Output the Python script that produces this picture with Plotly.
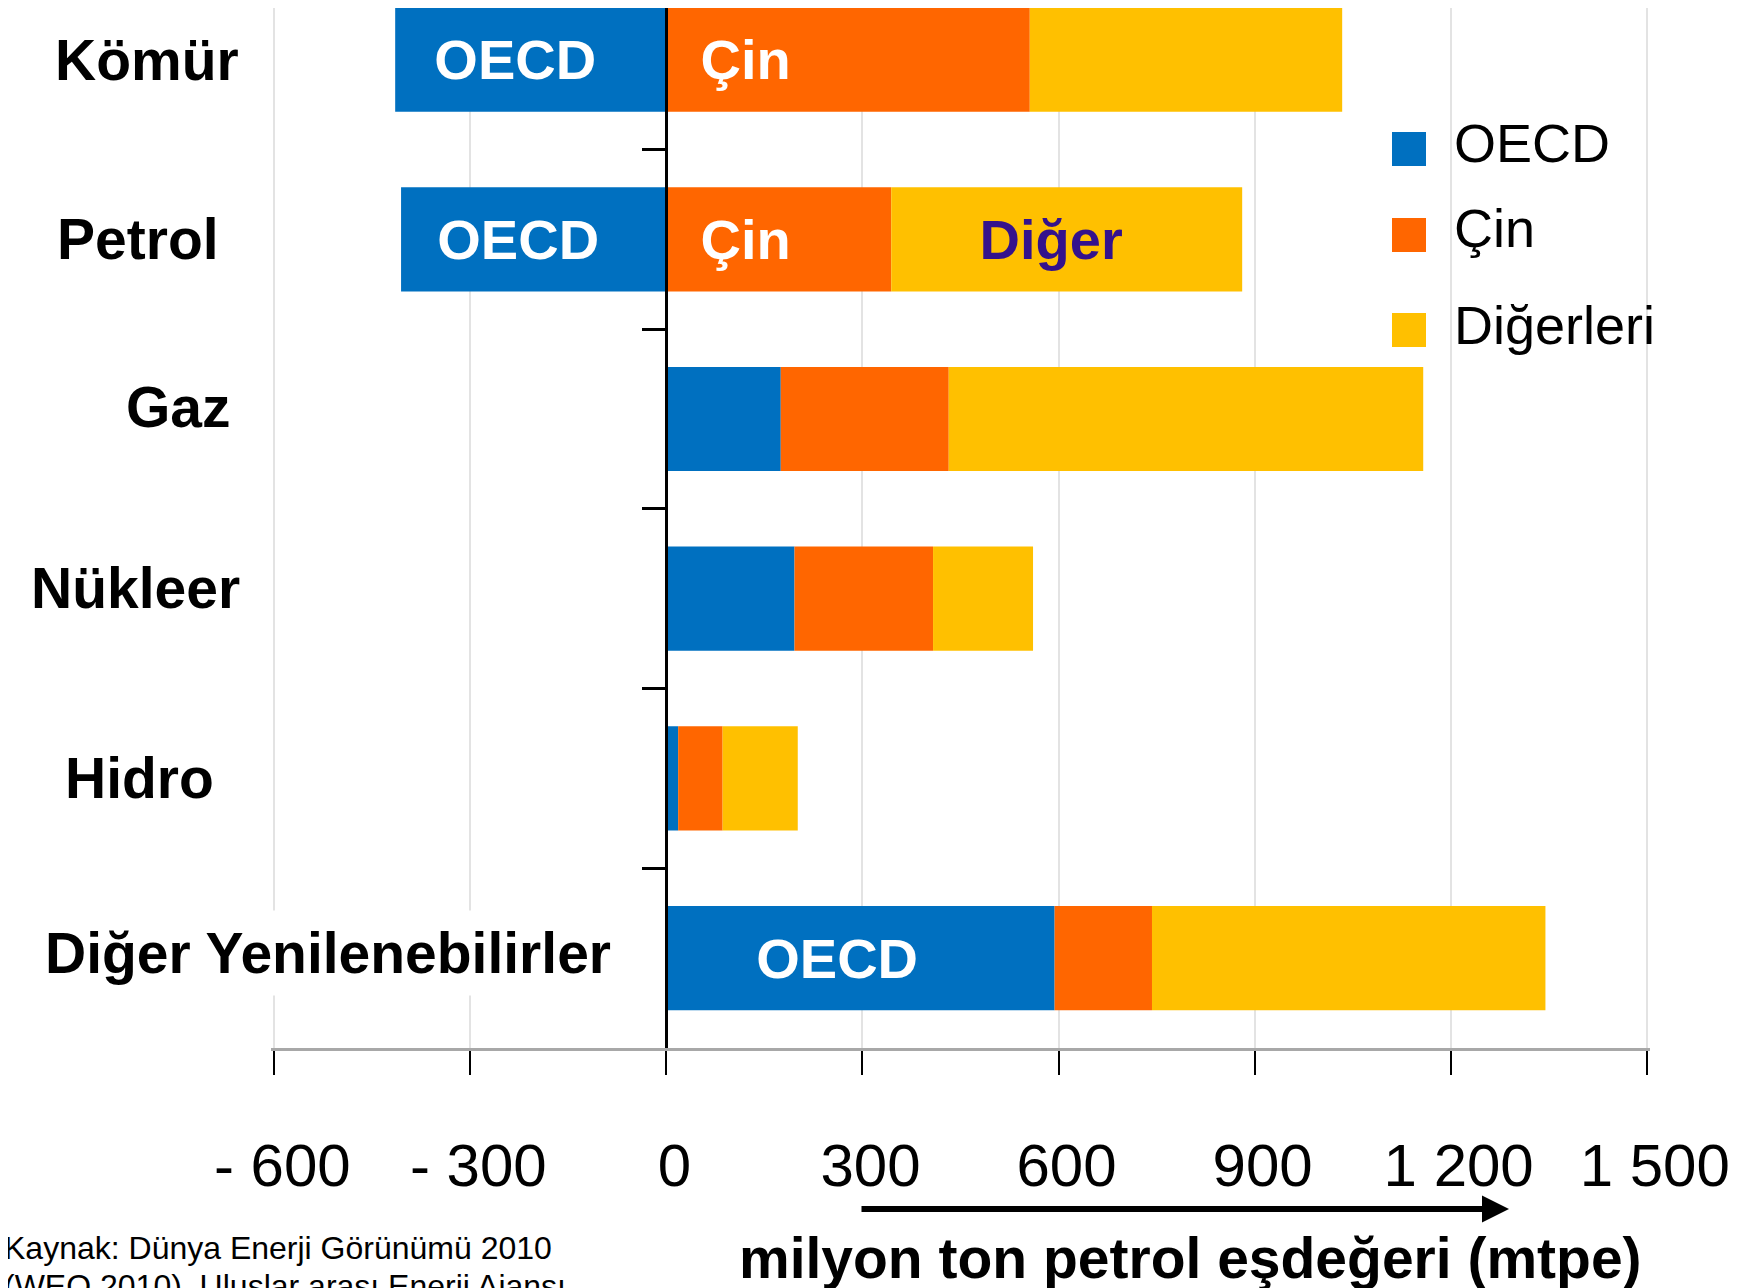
import plotly.graph_objects as go

# ---------------- data ----------------
categories = ["Kömür", "Petrol", "Gaz", "Nükleer", "Hidro", "Diğer Yenilenebilirler"]
series_names = ["OECD", "Çin", "Diğerleri"]
oecd = [-415, -406, 175, 196, 18, 594]
cin = [556, 344, 257, 212, 68, 149]
diger = [478, 537, 726, 153, 115, 602]
oecd_labels = ["OECD", "OECD", "", "", "", "OECD"]
cin_labels = ["Çin", "Çin", "", "", "", ""]
diger_labels = ["", "Diğer", "", "", "", ""]
tick_values = [-600, -300, 0, 300, 600, 900, 1200, 1500]
tick_labels = ["- 600", "- 300", "0", "300", "600", "900", "1 200", "1 500"]
x_title = "milyon ton petrol eşdeğeri (mtpe)"
source_lines = ["Kaynak: Dünya Enerji Görünümü 2010", "(WEO 2010), Uluslar arası Enerji Ajansı"]

# ---------------- layout constants ----------------
W, H = 1744, 1288
OFF = 8                      # page body margin in the browser
PLOT_L, PLOT_R, PLOT_T, PLOT_B = 263, 1642, 0, 1040   # figure pixel coords
X_RANGE = [-605, 1505]
Y_RANGE = [5.5, -0.287]
FONT = "Liberation Sans, Arial, sans-serif"
colors = ["#0070C0", "#FF6600", "#FFC000"]
text_colors = ["white", "white", "#34128C"]
text_anchors = ["middle", "start", "middle"]
NB = "\u00a0"
# padding (non-breaking spaces) before / after in-bar labels, to place them as in the original
pad_before = [[0, 0, 0, 0, 0, 0], [2, 2, 0, 0, 0, 0], [0, 0, 0, 0, 0, 0]]
pad_after = [[2, 2, 0, 0, 0, 3], [0, 0, 0, 0, 0, 0], [0, 2, 0, 0, 0, 0]]


def px(xpage):
    return (xpage - OFF - PLOT_L) / (PLOT_R - PLOT_L)


def py(ypage):
    return (PLOT_B - (ypage - OFF)) / (PLOT_B - PLOT_T)


fig = go.Figure()
series = [oecd, cin, diger]
raw_labels = [oecd_labels, cin_labels, diger_labels]
for k, (name, vals, txt, col, tc, anc) in enumerate(
        zip(series_names, series, raw_labels, colors, text_colors, text_anchors)):
    shown = [NB * pad_before[k][i] + t + NB * pad_after[k][i] if t else "" for i, t in enumerate(txt)]
    fig.add_trace(go.Bar(
        y=categories, x=vals, orientation="h", name=name,
        marker=dict(color=col, line=dict(width=0)), width=0.58,
        text=shown, textposition="inside", insidetextanchor=anc, textangle=0,
        textfont=dict(family=FONT, size=56, color=tc, weight="bold"),
        constraintext="none", hoverinfo="skip",
    ))

annotations = []
# category labels
label_cx = [147, 138, 178, 135, 139, 328]
label_dy = [0, 0, 12, 11, 0, 5]
for cat, cx, dy in zip(categories, label_cx, label_dy):
    annotations.append(dict(
        x=px(cx), xref="paper", y=cat, yref="y", text=cat, showarrow=False,
        xanchor="center", yanchor="middle", yshift=dy,
        font=dict(family=FONT, size=57, color="black", weight="bold"),
        bgcolor="white", borderpad=10,
    ))

# legend (manual, large swatches)
shapes = [dict(type="rect", xref="paper", yref="paper", x0=px(1370), x1=px(1760),
               y0=py(363), y1=py(98), fillcolor="white", line=dict(width=0), layer="between")]
swatch_top = [132, 218, 313]
text_cy = [143, 228, 325]
for name, col, st, ty in zip(series_names, colors, swatch_top, text_cy):
    shapes.append(dict(type="rect", xref="paper", yref="paper", x0=px(1392), x1=px(1426),
                       y0=py(st + 34), y1=py(st), fillcolor=col, line=dict(width=0), layer="above"))
    annotations.append(dict(
        x=px(1452), xref="paper", y=py(ty), yref="paper", text=name, showarrow=False,
        xanchor="left", yanchor="middle",
        font=dict(family=FONT, size=54, color="black"),
    ))

# axis title + arrow
annotations.append(dict(
    x=px(1190), xref="paper", y=py(1258), yref="paper", text=x_title, showarrow=False,
    xanchor="center", yanchor="middle",
    font=dict(family=FONT, size=57, color="black", weight="bold"),
))
annotations.append(dict(
    x=px(1509), xref="paper", y=py(1209), yref="paper", text="", showarrow=True,
    ax=-(1509 - 860), ay=0, axref="pixel", ayref="pixel",
    arrowhead=2, arrowsize=0.9, arrowwidth=6, arrowcolor="black",
))
# source
for line, cy in zip(source_lines, [1248, 1286]):
    annotations.append(dict(
        x=px(2), xref="paper", y=py(cy), yref="paper", text=line, showarrow=False,
        xanchor="left", yanchor="middle",
        font=dict(family=FONT, size=32, color="black"),
    ))

fig.update_layout(
    width=W, height=H,
    margin=dict(l=PLOT_L, r=W - PLOT_R, t=PLOT_T, b=H - PLOT_B, pad=0),
    paper_bgcolor="white", plot_bgcolor="white",
    barmode="relative", showlegend=False,
    xaxis=dict(
        range=X_RANGE, tickmode="array", tickvals=tick_values, ticktext=tick_labels,
        showgrid=True, gridcolor="#E3E3E3", gridwidth=2, zeroline=False,
        showline=True, linecolor="#A8A8A8", linewidth=3,
        ticks="outside", ticklen=24, tickwidth=2, tickcolor="black",
        tickfont=dict(family=FONT, size=60, color="black"),
        ticklabelstandoff=39, ticklabelshift=8,
    ),
    yaxis=dict(
        type="category", categoryorder="array", categoryarray=categories, range=Y_RANGE,
        anchor="free", position=(0 - X_RANGE[0]) / (X_RANGE[1] - X_RANGE[0]),
        showline=True, linecolor="black", linewidth=3,
        ticks="outside", tickmode="array",
        tickvals=[i + 0.5 for i in range(len(categories) - 1)],
        ticklen=23, tickwidth=3, tickcolor="black",
        showticklabels=False, showgrid=False, zeroline=False,
    ),
    annotations=annotations, shapes=shapes,
)

fig.write_html("out.html")
